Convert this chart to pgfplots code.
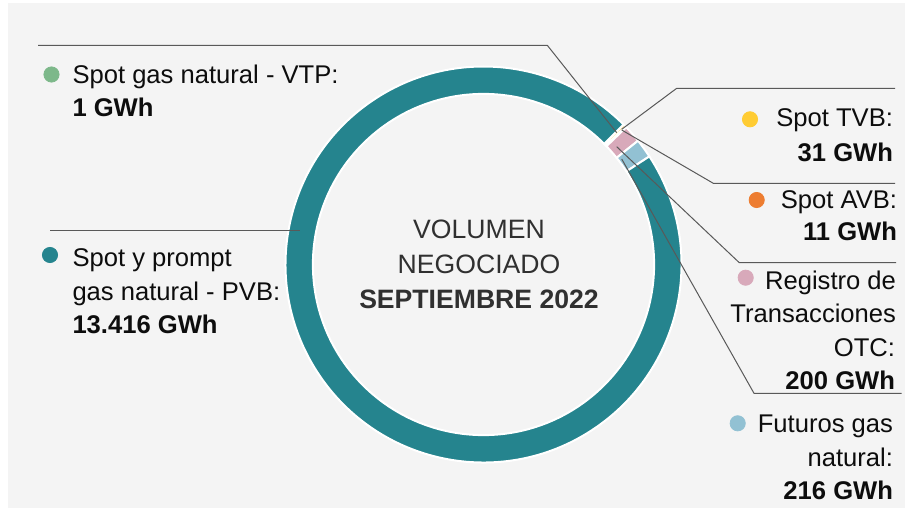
\documentclass[border=0pt]{standalone}
\usepackage{fontspec}
\setmainfont{Liberation Sans}
\usepackage{pgfplots}
\usepackage{pgfplotstable}
\pgfplotsset{compat=1.18}

\definecolor{fondo}{HTML}{F4F4F4}
\definecolor{linea}{HTML}{595959}
\definecolor{texto}{HTML}{0D0D0D}
\definecolor{centro}{HTML}{303030}
\definecolor{c0}{HTML}{7DB88A}% VTP
\definecolor{c1}{HTML}{FFCC33}% TVB
\definecolor{c2}{HTML}{ED7D31}% AVB
\definecolor{c3}{HTML}{D8A9BA}% OTC
\definecolor{c4}{HTML}{92C1D3}% Futuros
\definecolor{c5}{HTML}{25848E}% PVB

% volumen negociado, GWh
\pgfplotstableread{
serie valor
VTP 1
TVB 31
AVB 11
OTC 200
FUT 216
PVB 13416
}\donut

% angulos acumulados (sentido horario desde 45 grados)
\gdef\total{0}
\pgfplotsforeachungrouped \i in {0,...,5}{%
  \pgfplotstablegetelem{\i}{valor}\of\donut
  \pgfmathsetmacro\tmp{\total+\pgfplotsretval}
  \xdef\total{\tmp}}
\gdef\cum{0}
\pgfplotsforeachungrouped \i in {0,...,5}{%
  \pgfplotstablegetelem{\i}{valor}\of\donut
  \pgfmathsetmacro\sa{90-45-360*(\cum/\total)}
  \pgfmathsetmacro\tmp{\cum+\pgfplotsretval}
  \xdef\cum{\tmp}
  \pgfmathsetmacro\sb{90-45-360*(\cum/\total)}
  \expandafter\xdef\csname sa\i\endcsname{\sa}
  \expandafter\xdef\csname sb\i\endcsname{\sb}}

\def\Rout{99pt}
\def\Rin{85.3pt}
\newcommand\lbl{\fontsize{12.8}{16.5}\selectfont}
\newcommand\cen{\fontsize{13.3}{17}\selectfont}
\tikzset{lab/.style={inner sep=0pt,outer sep=0pt,text=texto,font=\lbl}}

\begin{document}
\begin{tikzpicture}
\begin{axis}[x=0.5pt,y=0.5pt,xmin=0,xmax=905,ymin=0,ymax=508,y dir=reverse,
  hide axis,clip=false]
\fill[white] (axis cs:0,0) rectangle (axis cs:905,508);
\fill[fondo] (axis cs:8,3) rectangle (axis cs:905,508);
\coordinate (O) at (axis cs:483.5,264.5);

% anillo
\pgfplotsinvokeforeach{0,...,5}{
  \fill[c#1,draw=white,line width=1pt]
    (O) ++(\csname sa#1\endcsname:\Rout)
    arc[start angle=\csname sa#1\endcsname,end angle=\csname sb#1\endcsname,radius=\Rout]
    -- ([shift={(\csname sb#1\endcsname:\Rin)}]O)
    arc[start angle=\csname sb#1\endcsname,end angle=\csname sa#1\endcsname,radius=\Rin]
    -- cycle;
}

% lineas guia
\addplot[linea,line width=0.5pt,mark=none] coordinates {(38,45.3)(547.3,45.3)(616.7,132.7)};
\addplot[linea,line width=0.5pt,mark=none] coordinates {(50,230)(300,230)};
\addplot[linea,line width=0.5pt,mark=none] coordinates {(895,88.3)(676.7,88.3)(621.7,129.3)};
\addplot[linea,line width=0.5pt,mark=none] coordinates {(895,183.3)(713.3,183.3)(621.7,130)};
\addplot[linea,line width=0.5pt,mark=none] coordinates {(896,262.7)(739.3,262.7)(616.7,146.7)};
\addplot[linea,line width=0.5pt,mark=none] coordinates {(901.7,393.3)(754,393.3)(621.7,159)};

% puntos de leyenda
\addplot[only marks,mark=*,mark size=3.8pt,c0] coordinates {(51.5,74.5)};
\addplot[only marks,mark=*,mark size=3.8pt,c5] coordinates {(50,255)};
\addplot[only marks,mark=*,mark size=3.8pt,c1] coordinates {(750,119.3)};
\addplot[only marks,mark=*,mark size=3.8pt,c2] coordinates {(756.7,200)};
\addplot[only marks,mark=*,mark size=3.8pt,c3] coordinates {(745.7,277.7)};
\addplot[only marks,mark=*,mark size=3.8pt,c4] coordinates {(737.7,423.3)};

% textos izquierda
\node[lab,anchor=base west] at (axis cs:72.5,83.3) {Spot gas natural - VTP:};
\node[lab,anchor=base west] at (axis cs:72.5,116.5) {\bfseries 1 GWh};
\node[lab,anchor=base west] at (axis cs:72.5,266.7) {Spot y prompt};
\node[lab,anchor=base west] at (axis cs:72.5,300) {gas natural - PVB:};
\node[lab,anchor=base west] at (axis cs:72.5,333) {\bfseries 13.416 GWh};

% textos derecha
\node[lab,anchor=base east] at (axis cs:893,126.7) {Spot TVB:};
\node[lab,anchor=base east] at (axis cs:893,161.7) {\bfseries 31 GWh};
\node[lab,anchor=base east] at (axis cs:897,208.3) {Spot AVB:};
\node[lab,anchor=base east] at (axis cs:897,240.7) {\bfseries 11 GWh};
\node[lab,anchor=base east] at (axis cs:896,289.3) {Registro de};
\node[lab,anchor=base east] at (axis cs:896,322.7) {Transacciones};
\node[lab,anchor=base east] at (axis cs:895,356) {OTC:};
\node[lab,anchor=base east] at (axis cs:895,389.3) {\bfseries 200 GWh};
\node[lab,anchor=base east] at (axis cs:893,432.7) {Futuros gas};
\node[lab,anchor=base east] at (axis cs:893,466) {natural:};
\node[lab,anchor=base east] at (axis cs:893,499.3) {\bfseries 216 GWh};

% centro
\node[lab,anchor=base,text=centro,font=\cen] at (axis cs:479,238) {VOLUMEN};
\node[lab,anchor=base,text=centro,font=\cen] at (axis cs:479,273) {NEGOCIADO};
\node[lab,anchor=base,text=centro,font=\cen] at (axis cs:479,308) {\bfseries SEPTIEMBRE 2022};
\end{axis}
\end{tikzpicture}
\end{document}
